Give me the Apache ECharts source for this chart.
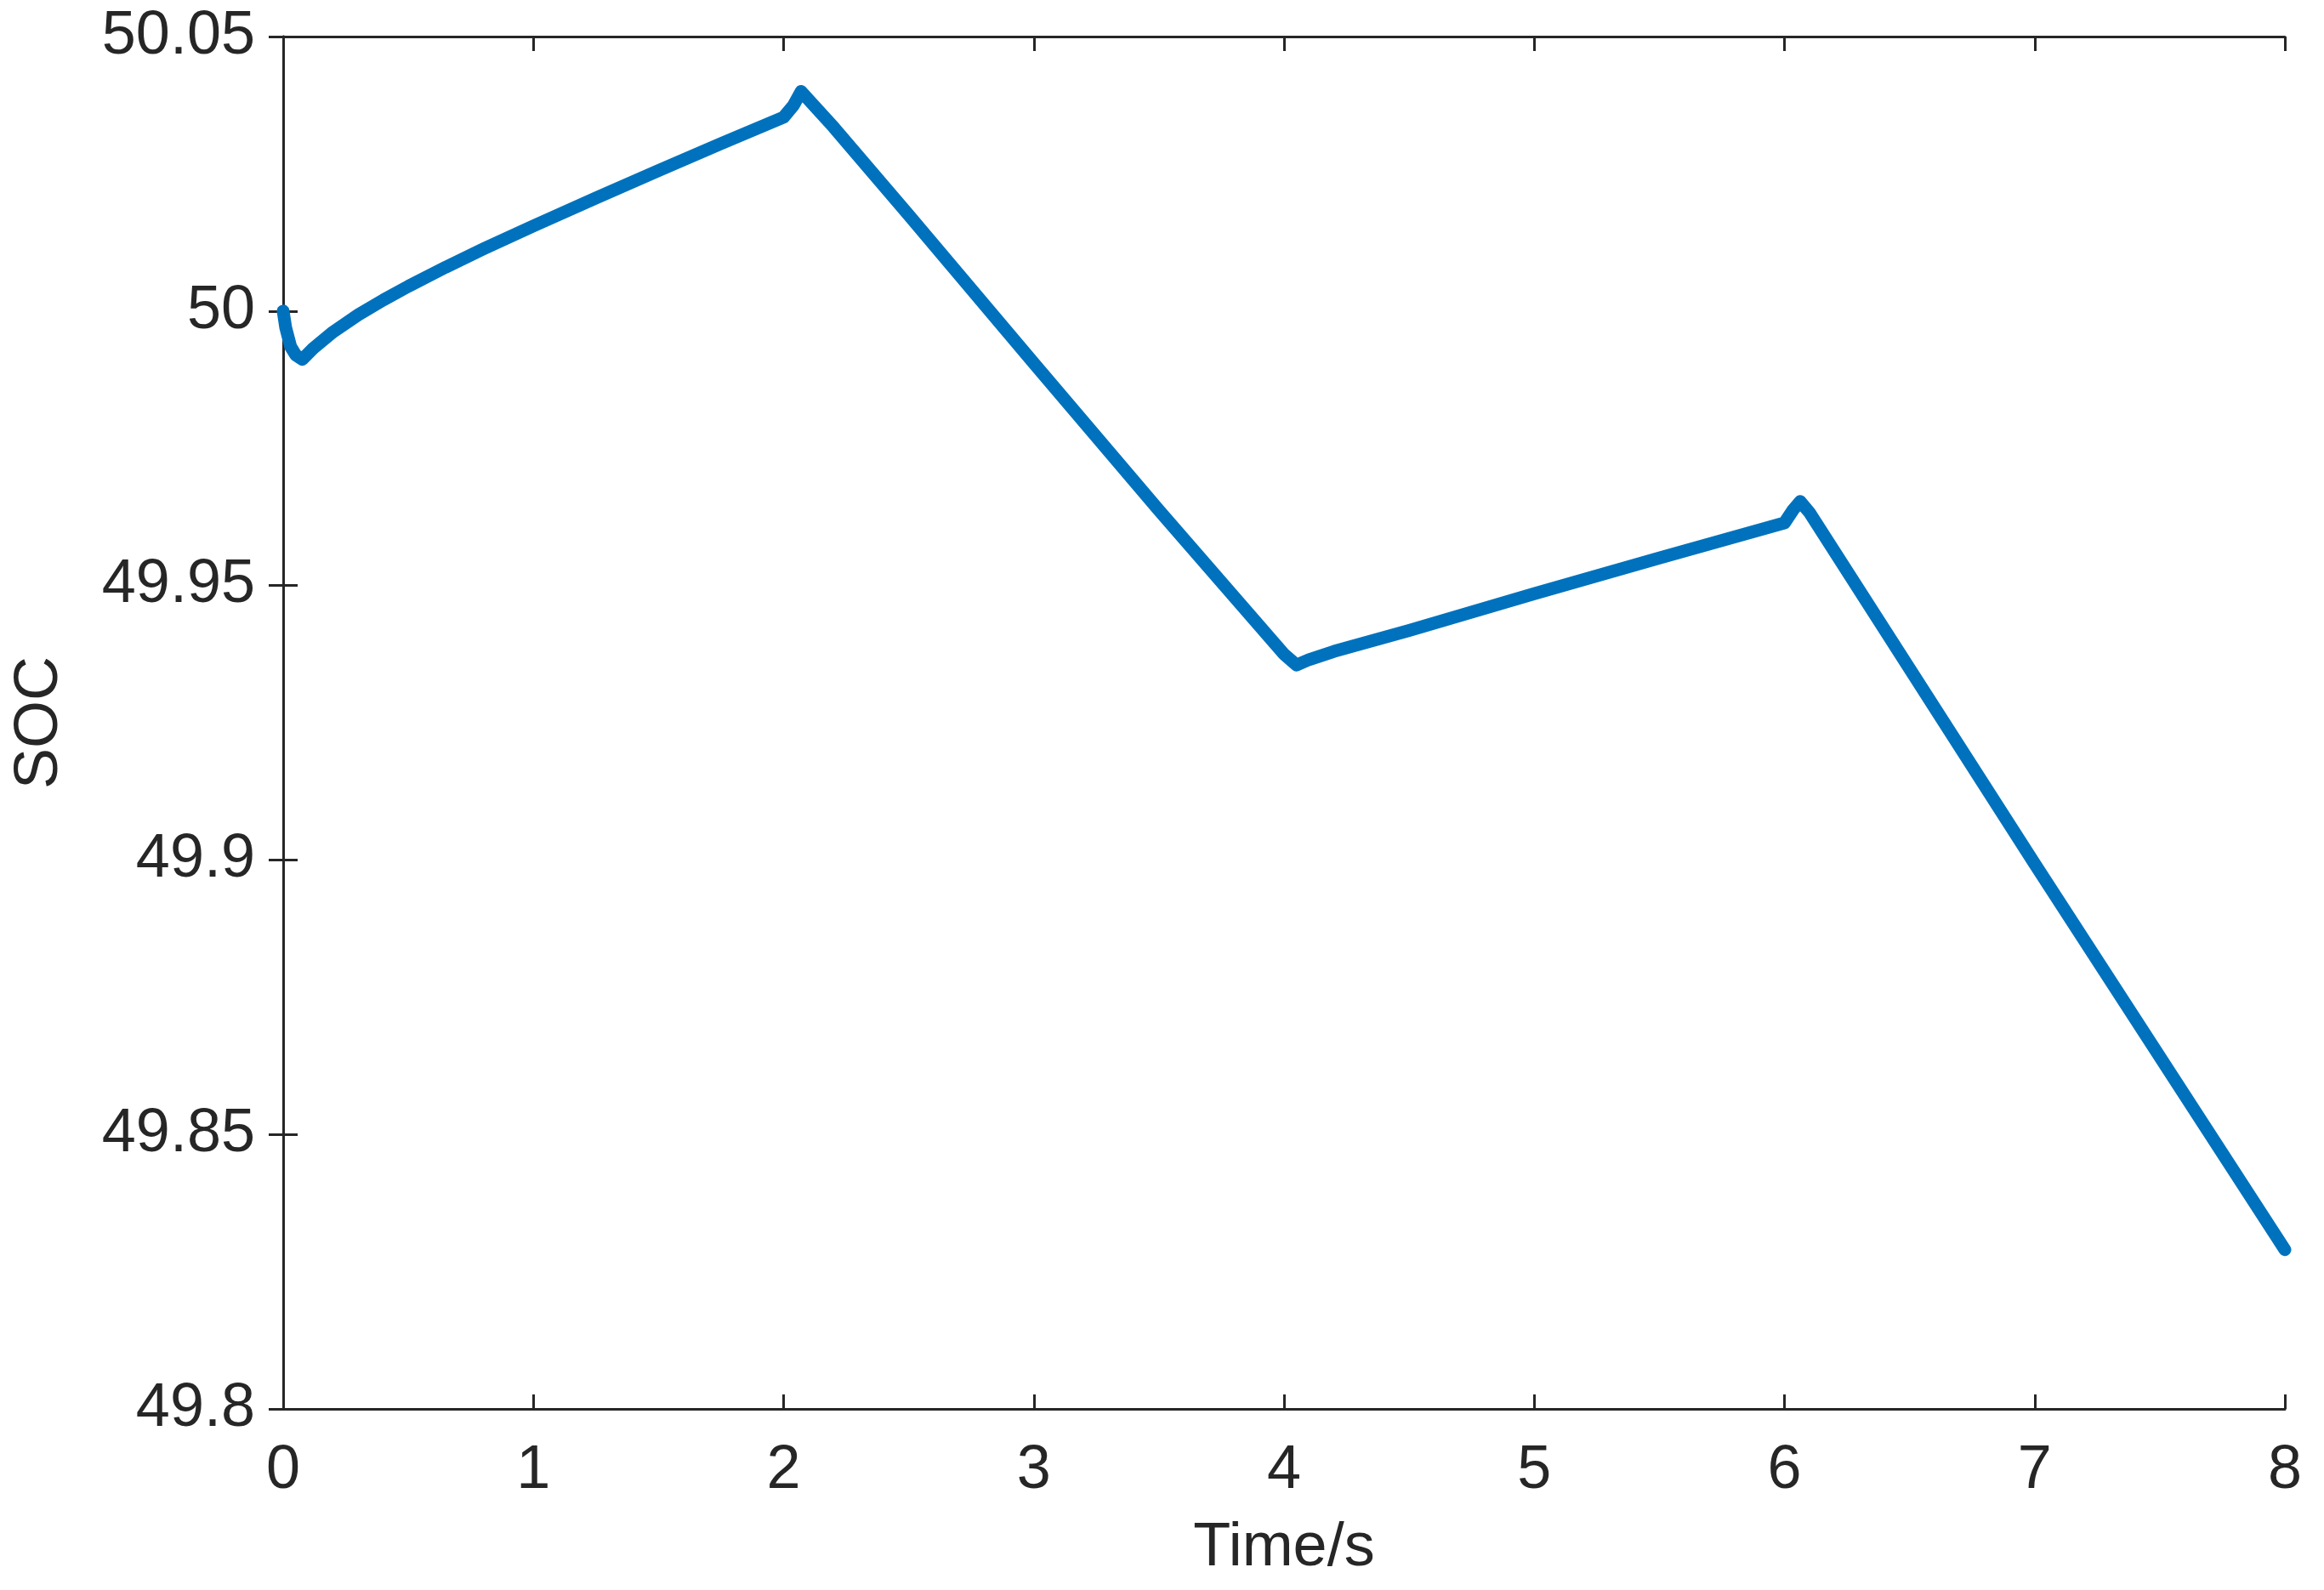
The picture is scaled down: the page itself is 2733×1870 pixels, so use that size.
<!DOCTYPE html>
<html>
<head>
<meta charset="utf-8">
<script src="https://cdn.jsdelivr.net/npm/echarts@6/dist/echarts.min.js"></script>
<style>
html,body{margin:0;padding:0;background:#fff;}
#chart{width:2733px;height:1870px;}
</style>
</head>
<body>
<div id="chart"></div>
<script>
// Time (s)
var timeValues = [0, 0.01, 0.03, 0.05, 0.077, 0.12, 0.2, 0.3, 0.4, 0.5, 0.65, 0.8, 1.0, 1.25, 1.5, 1.75, 2.0, 2.04, 2.07, 2.1, 2.2, 2.5, 3.0, 3.5, 4.0, 4.05, 4.1, 4.2, 4.5, 5.0, 5.5, 6.0, 6.035, 6.063, 6.1, 7.0, 8.0];
// SOC values
var socValues = [50.0, 49.997, 49.9935, 49.992, 49.9912, 49.9932, 49.9962, 49.9993, 50.002, 50.0045, 50.008, 50.0113, 50.0155, 50.0206, 50.0256, 50.0305, 50.0353, 50.0375, 50.040, 50.0385, 50.0335, 50.0175, 49.9905, 49.9637, 49.9375, 49.9355, 49.9365, 49.938, 49.9418, 49.9485, 49.955, 49.9614, 49.9638, 49.9653, 49.9633, 49.8993, 49.829];
var xTicks = [0, 1, 2, 3, 4, 5, 6, 7, 8];
var yTicks = [49.8, 49.85, 49.9, 49.95, 50, 50.05];

var seriesData = timeValues.map(function (t, i) { return [t, socValues[i]]; });
var txt = '#262626';
var font = 'Liberation Sans, Arial, Helvetica, sans-serif';
var axLine = { show: true, lineStyle: { color: txt, width: 3 } };
var tick = { show: true, inside: true, length: 17, lineStyle: { color: txt, width: 3 } };

var chart = echarts.init(document.getElementById('chart'));
chart.setOption({
  animation: false,
  backgroundColor: '#ffffff',
  grid: { left: 333, top: 43, width: 2354, height: 1614, containLabel: false },
  xAxis: [{
    type: 'value', position: 'bottom',
    min: xTicks[0], max: xTicks[xTicks.length - 1], interval: 1,
    name: 'Time/s', nameLocation: 'middle', nameGap: 128,
    nameTextStyle: { color: txt, fontSize: 72, fontFamily: font },
    axisLine: axLine, axisTick: tick, splitLine: { show: false },
    axisLabel: { color: txt, fontSize: 72, fontFamily: font, margin: 37 }
  }, {
    type: 'value', position: 'top',
    min: xTicks[0], max: xTicks[xTicks.length - 1], interval: 1,
    axisLine: axLine, axisTick: tick, splitLine: { show: false },
    axisLabel: { show: false }
  }],
  yAxis: [{
    type: 'value', position: 'left',
    min: yTicks[0], max: yTicks[yTicks.length - 1], interval: 0.05,
    name: 'SOC', nameLocation: 'middle', nameGap: 250,
    nameTextStyle: { color: txt, fontSize: 72, fontFamily: font },
    axisLine: axLine, axisTick: tick, splitLine: { show: false },
    axisLabel: {
      color: txt, fontSize: 72, fontFamily: font, margin: 33,
      formatter: function (v) { return String(Math.round(v * 100) / 100); }
    }
  }, {
    type: 'value', position: 'right',
    min: yTicks[0], max: yTicks[yTicks.length - 1], interval: 0.05,
    axisLine: axLine, axisTick: tick, splitLine: { show: false },
    axisLabel: { show: false }
  }],
  series: [{
    type: 'line',
    xAxisIndex: 0, yAxisIndex: 0,
    data: seriesData,
    showSymbol: false,
    smooth: false,
    lineStyle: { color: '#0072BD', width: 15, cap: 'round', join: 'round' },
    clip: true
  }]
});
</script>
</body>
</html>
